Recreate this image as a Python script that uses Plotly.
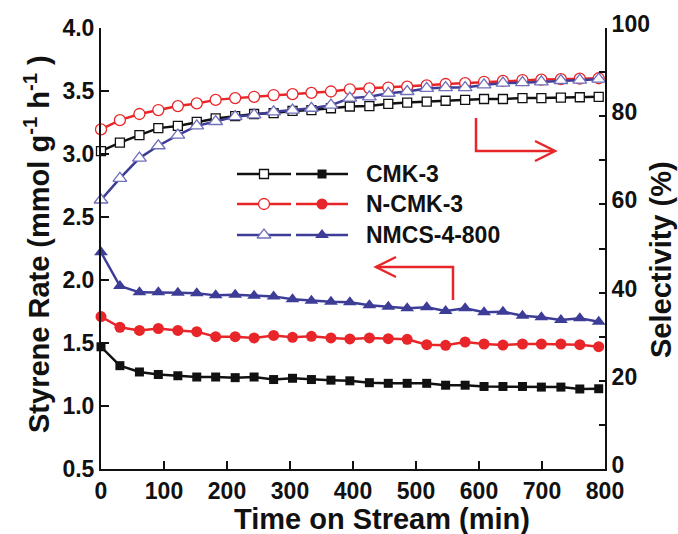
import plotly.graph_objects as go

# ---------------- data ----------------
time_min = [0, 30, 61, 91, 122, 152, 182, 213, 243, 274, 304, 334, 365, 395,
            426, 456, 486, 517, 547, 578, 608, 638, 669, 699, 730, 760, 790]

# Styrene rate (mmol g-1 h-1), left axis, filled symbols
rate_cmk3 = [1.47, 1.32, 1.27, 1.25, 1.24, 1.23, 1.23, 1.225, 1.23, 1.21, 1.22, 1.21, 1.205,
             1.20, 1.185, 1.18, 1.18, 1.18, 1.165, 1.165, 1.155, 1.155, 1.155, 1.15, 1.15, 1.135, 1.137]
rate_ncmk3 = [1.71, 1.625, 1.60, 1.615, 1.60, 1.59, 1.55, 1.55, 1.54, 1.56, 1.545, 1.553, 1.54,
              1.532, 1.54, 1.534, 1.529, 1.487, 1.482, 1.508, 1.492, 1.484, 1.492, 1.492, 1.492, 1.487, 1.471]
rate_nmcs = [2.22, 1.952, 1.902, 1.902, 1.899, 1.894, 1.878, 1.883, 1.875, 1.87, 1.847, 1.836, 1.828,
             1.823, 1.799, 1.788, 1.775, 1.783, 1.754, 1.775, 1.744, 1.749, 1.717, 1.704, 1.683, 1.696, 1.669]

# Selectivity (%), right axis, open symbols
sel_cmk3 = [72.1, 74.0, 75.7, 77.3, 77.8, 78.7, 79.5, 80.0, 80.5, 80.7, 81.2, 81.4, 81.8,
            82.2, 82.3, 82.8, 83.1, 83.3, 83.5, 83.7, 83.9, 83.9, 84.1, 84.1, 84.2, 84.3, 84.4]
sel_ncmk3 = [77.0, 79.1, 80.5, 81.4, 82.3, 82.9, 83.7, 84.1, 84.4, 84.8, 85.0, 85.3, 85.6,
             86.1, 86.3, 86.5, 86.7, 87.0, 87.3, 87.5, 87.8, 88.0, 88.2, 88.3, 88.4, 88.5, 88.6]
sel_nmcs = [61.0, 65.9, 70.5, 73.3, 75.7, 77.8, 78.8, 79.9, 80.3, 81.0, 81.4, 81.8, 82.5,
            84.1, 84.4, 85.2, 85.6, 86.3, 86.5, 86.5, 87.1, 87.5, 87.6, 87.8, 88.1, 88.2, 88.4]

series_names = ["CMK-3", "N-CMK-3", "NMCS-4-800"]
x_ticks = [0, 100, 200, 300, 400, 500, 600, 700, 800]
left_ticks = [0.5, 1.0, 1.5, 2.0, 2.5, 3.0, 3.5, 4.0]
right_ticks = [0, 20, 40, 60, 80, 100]

# ---------------- styles ----------------
BLACK = "#111111"
RED = "#e8262a"
BLUE = "#3d3d98"
BLUE_OPEN = "#7070bb"
RED_ARROW = "#e8262a"
FONT = "Liberation Sans, Arial, sans-serif"

W, H = 678, 534
ML, MR, MT, MB = 101, 73, 28, 65
PW, PH = W - ML - MR, H - MT - MB


def px(xp):
    return (xp - ML) / PW


def py(yp):
    return (H - MB - yp) / PH


fig = go.Figure()

styles = [
    (BLACK, BLACK, "square", 9),
    (RED, RED, "circle", 11),
    (BLUE, BLUE_OPEN, "triangle-up", 12),
]
rates = [rate_cmk3, rate_ncmk3, rate_nmcs]
sels = [sel_cmk3, sel_ncmk3, sel_nmcs]

# selectivity (open symbols) on right axis
for name, s, (lc, mc, sym, sz) in zip(series_names, sels, styles):
    fig.add_trace(go.Scatter(
        x=time_min, y=s, yaxis="y2", mode="lines+markers", name=name + " sel",
        line=dict(color=lc, width=2.5),
        marker=dict(symbol=sym, size=sz, color="white", line=dict(color=mc, width=1.3)),
        showlegend=False, cliponaxis=False))

# rate (filled symbols) on left axis
for name, r, (lc, mc, sym, sz) in zip(series_names, rates, styles):
    fig.add_trace(go.Scatter(
        x=time_min, y=r, yaxis="y", mode="lines+markers", name=name + " rate",
        line=dict(color=lc, width=2.5),
        marker=dict(symbol=sym, size=sz, color=lc, line=dict(color=lc, width=0)),
        showlegend=False, cliponaxis=False))

# ---------------- hand-drawn legend (Origin style) ----------------
leg_rows = [174, 204, 235]
for (lc, mc, sym, sz), row, name in zip(styles, leg_rows, series_names):
    for x0, x1, filled in [(237, 291, False), (296, 348, True)]:
        fig.add_trace(go.Scatter(
            x=[px(x0), px(x1)], y=[py(row), py(row)], xaxis="x3", yaxis="y3",
            mode="lines", line=dict(color=lc, width=2.5), showlegend=False, hoverinfo="skip"))
        fig.add_trace(go.Scatter(
            x=[px((x0 + x1) / 2)], y=[py(row)], xaxis="x3", yaxis="y3", mode="markers",
            marker=dict(symbol=sym, size=sz,
                        color=lc if filled else "white",
                        line=dict(color=lc if filled else mc, width=0 if filled else 1.3)),
            showlegend=False, hoverinfo="skip"))
    fig.add_annotation(x=px(364), y=py(row), xref="paper", yref="paper", text=name,
                       showarrow=False, xanchor="left", yanchor="middle",
                       font=dict(family=FONT, size=23, color=BLACK, weight="bold"))

# ---------------- red arrows ----------------
def path(points):
    return "M " + " L ".join(f"{px(a):.5f},{py(b):.5f}" for a, b in points)

arrow_paths = [
    [(476, 118), (476, 151), (554, 151)],
    [(535, 141), (555, 151), (535, 161)],
    [(453, 300), (453, 267), (376, 267)],
    [(396, 257), (376, 267), (396, 277)],
]
for pts in arrow_paths:
    fig.add_shape(type="path", path=path(pts), xref="paper", yref="paper",
                  line=dict(color=RED_ARROW, width=2.5))

# ---------------- axis titles ----------------
fig.add_annotation(x=px(382), y=py(519), xref="paper", yref="paper",
                   text="Time on Stream (min)", showarrow=False,
                   xanchor="center", yanchor="middle",
                   font=dict(family=FONT, size=29, color=BLACK, weight="bold"))
fig.add_annotation(x=px(37), y=py(244), xref="paper", yref="paper",
                   text="Styrene Rate (mmol g<sup>-1</sup> h<sup>-1</sup> )", showarrow=False,
                   textangle=-90, xanchor="center", yanchor="middle",
                   font=dict(family=FONT, size=29, color=BLACK, weight="bold"))
fig.add_annotation(x=px(661), y=py(260), xref="paper", yref="paper",
                   text="Selectivity (%)", showarrow=False,
                   textangle=-90, xanchor="center", yanchor="middle",
                   font=dict(family=FONT, size=29, color=BLACK, weight="bold"))

tickfont = dict(family=FONT, size=23, color=BLACK, weight="bold")
fig.update_layout(
    width=W, height=H,
    margin=dict(l=ML, r=MR, t=MT, b=MB),
    paper_bgcolor="white", plot_bgcolor="white",
    showlegend=False,
    xaxis=dict(range=[0, 800], tickvals=x_ticks, ticks="inside", ticklen=8, tickwidth=2,
               tickcolor=BLACK, showline=True, linewidth=2, linecolor=BLACK,
               showgrid=False, zeroline=False, tickfont=tickfont),
    yaxis=dict(range=[0.5, 4.0], tickvals=left_ticks, tickformat=".1f",
               ticks="inside", ticklen=8, tickwidth=2,
               tickcolor=BLACK, showline=True, linewidth=2, linecolor=BLACK,
               showgrid=False, zeroline=False, tickfont=tickfont),
    yaxis2=dict(range=[0, 100], overlaying="y", side="right", tickvals=right_ticks,
                ticks="inside", ticklen=6, tickwidth=2, tickcolor=BLACK, ticklabelshift=-4,
                minor=dict(dtick=10, ticks="inside", ticklen=6, tickwidth=2, tickcolor=BLACK),
                showline=True, linewidth=2, linecolor=BLACK,
                showgrid=False, zeroline=False, tickfont=tickfont),
    xaxis3=dict(overlaying="x", range=[0, 1], anchor="y3", visible=False, fixedrange=True),
    yaxis3=dict(overlaying="y", range=[0, 1], anchor="x3", visible=False, fixedrange=True),
)

fig.write_html("out.html")
